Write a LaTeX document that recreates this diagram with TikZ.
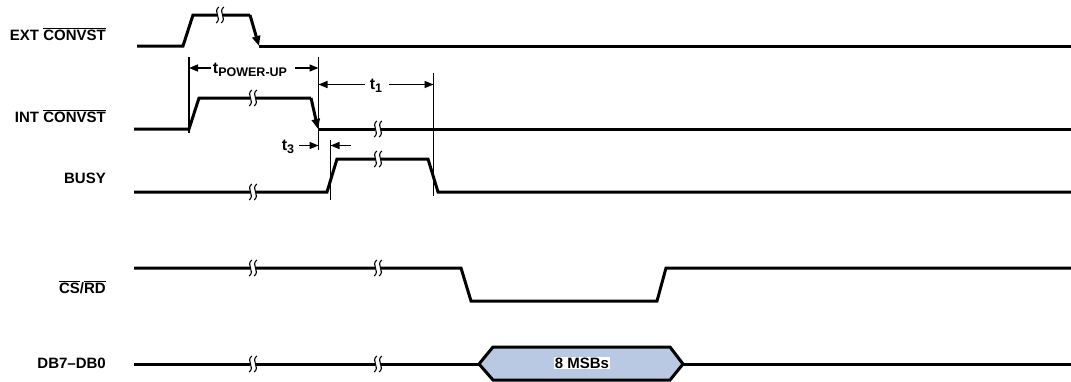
\documentclass[tikz,border=0pt]{standalone}
\usepackage{fontspec}
\setmainfont{Liberation Sans}
\usetikzlibrary{arrows.meta}
\definecolor{hexblue}{RGB}{185,201,227}
\tikzset{
  sig/.style={line width=3pt, line join=miter},
  causal/.style={line width=3pt, -{Triangle[length=10pt,width=8pt]}},
  tl/.style={line width=1.5pt},
  dimarrow/.style={line width=1.5pt, -{Triangle[length=9pt,width=7pt]}},
  lbl/.style={font=\fontsize{15}{15}\selectfont\bfseries, anchor=base east, inner sep=0pt},
  tlab/.style={font=\fontsize{16}{16}\selectfont\bfseries, anchor=base, inner sep=0pt},
  waveline/.style={line width=1.1pt},
}
\newcommand\ovl[1]{$\overline{\mbox{#1}}$}
\newcommand\sub[1]{\raisebox{-3.5pt}{\fontsize{12.5}{12.5}\selectfont #1}}
\newcommand\brkmark[2]{%
  \fill[white] (#1-3,#2-2.4) rectangle (#1+3,#2+2.4);
  \draw[waveline] (#1-2.5+1.3,#2-8) .. controls (#1-2.5-5,#2-3) and (#1-2.5+5,#2+3) .. (#1-2.5-1.3,#2+8);
  \draw[waveline] (#1+2.5+1.3,#2-8) .. controls (#1+2.5-5,#2-3) and (#1+2.5+5,#2+3) .. (#1+2.5-1.3,#2+8);
}
\begin{document}
\begin{tikzpicture}[x=1pt,y=-1pt]
\useasboundingbox (0,0) rectangle (1071,381);

% labels
\node[lbl] (lext)  at (106,40)  {EXT \ovl{CONVST}};
\node[lbl] (lint)  at (106,122) {INT \ovl{CONVST}};
\node[lbl] (lbusy) at (106,183) {BUSY};
\node[lbl] (lcs)   at (106,293) {\ovl{CS}/\ovl{RD}};
\node[lbl] (ldb)   at (106,368) {DB7--DB0};

% EXT CONVST
\coordinate (e1) at (250,15);
\coordinate (e2) at (259,46);
\draw[sig] (137,46) -- (183,46) -- (193,15) -- (e1);
\draw[causal] (e1) -- (e2);
\draw[sig] (e2) -- (1071,46);
\brkmark{220}{15}

% INT CONVST
\coordinate (i1) at (311,98);
\coordinate (i2) at (318,129);
\draw[sig] (134,129) -- (189,129) -- (199,98) -- (i1);
\draw[causal] (i1) -- (i2);
\draw[sig] (i2) -- (1071,129);
\brkmark{253}{98}
\brkmark{378}{129}

% BUSY
\draw[sig] (134,192) -- (327,192) -- (337,159) -- (428,159) -- (438,192) -- (1071,192);
\brkmark{253}{192}
\brkmark{378}{159}

% CS/RD
\draw[sig] (134,268) -- (461,268) -- (471,301) -- (657,301) -- (666,268) -- (1071,268);
\brkmark{253}{268}
\brkmark{378}{268}

% DB7-DB0
\coordinate (h1) at (479,364);
\coordinate (h2) at (683,364);
\draw[sig] (134,364) -- (h1);
\draw[sig, fill=hexblue] (h1) -- (493,347) -- (670,347) -- (h2) -- (670,380) -- (493,380) -- cycle;
\draw[sig] (h2) -- (1071,364);
\brkmark{253}{364}
\brkmark{378}{364}
\node[fill=white, inner sep=1pt, font=\fontsize{15}{15}\selectfont\bfseries] (msb) at (582,363) {8 MSBs};

% timing reference lines
\coordinate (v1t) at (189,57);   \coordinate (v1b) at (189,133);
\coordinate (v2t) at (318.5,57); \coordinate (v2b) at (318.5,150);
\coordinate (v3t) at (433.5,73); \coordinate (v3b) at (433.5,196);
\coordinate (v4t) at (330.5,140);\coordinate (v4b) at (330.5,200);
\draw[tl] (v1t) -- (v1b);
\draw[tl] (v2t) -- (v2b);
\draw[tl] (v3t) -- (v3b);
\draw[tl] (v4t) -- (v4b);

% t_POWER-UP
\node[tlab] (tpu) at (250,73) {t\sub{POWER-UP}};
\coordinate (pua) at (189,68);
\coordinate (pub) at (318.5,68);
\draw[dimarrow] (211,68) -- (pua);
\draw[dimarrow] (295,68) -- (pub);

% t1
\node[tlab] (tone) at (376,89) {t\sub{1}};
\coordinate (t1a) at (318.5,84.5);
\coordinate (t1b) at (433.5,84.5);
\draw[dimarrow] (365,84.5) -- (t1a);
\draw[dimarrow] (389,84.5) -- (t1b);

% t3
\node[tlab] (tthree) at (288,150) {t\sub{3}};
\coordinate (t3a) at (318.5,145.5);
\coordinate (t3b) at (330.5,145.5);
\draw[dimarrow] (299,145.5) -- (t3a);
\draw[dimarrow] (351,145.5) -- (t3b);
\end{tikzpicture}
\end{document}
